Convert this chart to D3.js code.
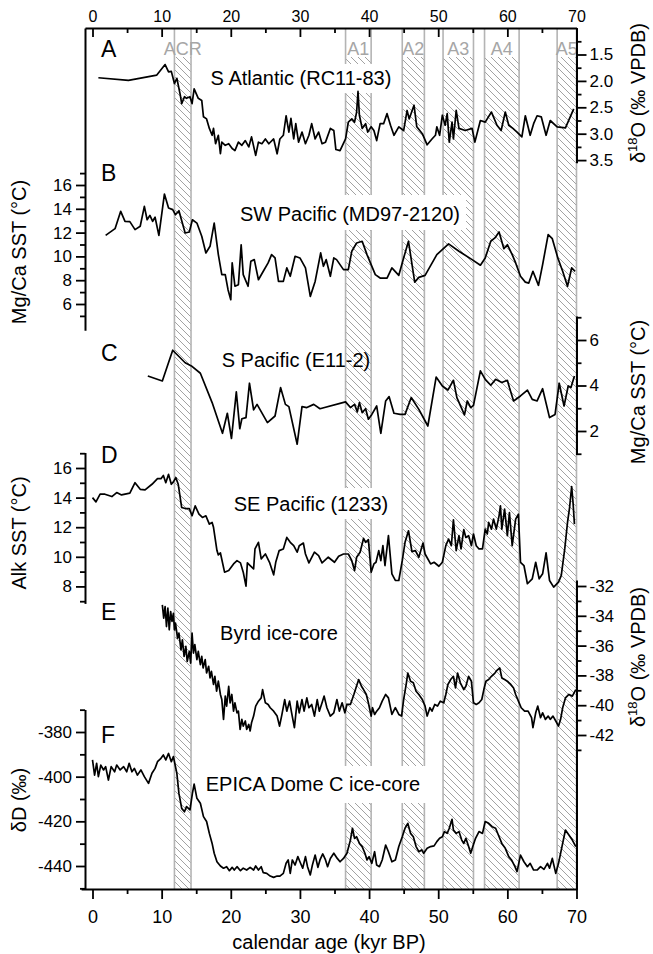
<!DOCTYPE html>
<html>
<head>
<meta charset="utf-8">
<script src="https://cdn.jsdelivr.net/npm/d3@7"></script>
<style>
body{margin:0;background:#fff;}
svg text{font-family:"Liberation Sans",Arial,Helvetica,sans-serif;}
</style>
</head>
<body>
<script>
//climate events (kyr BP), shaded bands
var bandNames = ["ACR","A1","A2","A3","A4","A5"];
var bandStart = [11.85, 36.6, 44.8, 50.7, 56.7, 67.2];
var bandEnd   = [14.25, 40.3, 48.0, 55.1, 61.7, 70.0];

//A: S Atlantic RC11-83, d18O (permil VPDB)  [age, value]
var seriesA = [[0.85,1.94],[5.2,1.99],[9.3,1.89],[10.5,1.69],[11.0,1.83],[11.4,1.82],[11.85,2.05],[12.2,1.95],[12.7,2.27],[12.9,2.43],[13.3,2.30],[13.6,2.33],[14.1,2.30],[14.4,2.43],[14.7,2.15],[15.3,2.33],[15.8,2.37],[16.05,2.68],[16.5,2.72],[16.9,2.90],[17.3,3.03],[17.5,2.90],[17.8,3.19],[18.2,3.03],[18.5,3.38],[18.7,3.16],[19.2,3.22],[19.7,3.19],[20.2,3.28],[20.6,3.32],[21.1,3.16],[21.6,3.22],[22.1,3.13],[22.6,3.25],[23.0,3.06],[23.6,3.41],[24.0,3.16],[24.5,3.19],[25.0,3.10],[25.5,3.19],[26.2,3.10],[26.7,3.38],[27.1,3.10],[27.6,3.03],[28.0,2.66],[28.4,2.97],[28.7,2.71],[29.1,3.10],[29.4,2.81],[29.8,3.16],[30.3,2.97],[30.8,3.19],[31.3,3.03],[31.7,2.81],[32.2,3.10],[32.7,2.97],[33.2,3.19],[33.7,3.16],[34.4,2.90],[34.9,2.94],[35.2,3.30],[35.8,3.32],[36.6,3.10],[37.0,2.78],[37.5,2.72],[37.9,2.78],[38.2,2.59],[38.4,2.20],[38.6,2.65],[39.0,2.90],[39.5,2.81],[39.8,2.97],[40.3,2.87],[40.7,2.94],[41.1,3.13],[41.6,2.81],[42.1,2.81],[42.6,2.62],[43.1,2.84],[43.6,3.03],[44.3,2.87],[45.0,2.94],[45.5,2.56],[45.8,2.72],[46.5,2.46],[46.9,2.87],[47.7,3.00],[48.4,3.21],[49.1,3.10],[49.6,3.03],[49.8,2.87],[50.2,3.03],[50.6,2.65],[51.0,2.84],[51.3,2.62],[51.6,3.16],[52.0,2.78],[52.2,3.10],[52.6,2.56],[53.0,2.90],[53.9,2.94],[54.9,2.90],[55.3,3.16],[56.1,2.75],[56.8,2.78],[57.7,2.59],[58.5,2.84],[59.1,2.94],[59.7,2.59],[60.2,2.84],[60.8,2.90],[61.4,2.97],[62.1,3.06],[62.6,2.66],[63.3,3.03],[63.8,2.81],[64.3,2.66],[64.9,2.68],[65.6,3.03],[66.2,2.75],[67.2,2.87],[68.4,2.89],[69.6,2.53]];

//B: SW Pacific MD97-2120, Mg/Ca SST (C)
var seriesB = [[1.9,11.77],[3.26,12.33],[4.08,13.79],[4.7,12.95],[5.4,12.92],[6.15,12.25],[6.9,12.53],[7.5,14.21],[7.9,13.08],[8.3,13.45],[8.7,12.95],[9.05,13.29],[9.6,11.77],[10.4,15.24],[11.0,14.07],[11.6,13.93],[12.0,13.5],[12.5,13.84],[13.4,11.97],[14.0,12.05],[14.45,13.08],[15.1,12.8],[15.8,11.69],[16.4,10.29],[17.0,10.85],[17.6,12.8],[18.2,10.15],[18.7,8.47],[19.2,8.47],[19.6,7.2],[20.0,6.36],[20.2,9.45],[20.6,7.49],[21.1,7.62],[21.5,10.98],[21.8,8.47],[22.5,7.49],[22.9,9.59],[23.4,9.73],[24.0,8.04],[24.7,8.75],[25.4,9.45],[25.9,10.15],[26.4,9.87],[26.9,7.9],[27.6,7.9],[28.1,9.03],[28.6,8.33],[29.3,10.01],[30.0,9.87],[30.8,9.03],[31.5,6.64],[32.2,7.9],[33.0,10.29],[33.4,9.17],[33.8,9.73],[34.4,8.33],[34.9,9.87],[35.3,9.73],[36.3,8.89],[37.0,8.89],[37.5,10.43],[38.2,11.13],[39.0,11.27],[39.7,10.15],[40.3,9.31],[40.9,8.47],[41.6,8.18],[42.6,8.18],[43.3,9.03],[44.3,8.41],[45.0,9.87],[45.7,11.27],[46.6,7.84],[47.2,8.24],[48.1,8.41],[49.8,10.15],[51.5,11.05],[53.0,10.43],[54.9,9.73],[56.1,9.26],[56.8,9.87],[57.6,11.27],[58.2,11.55],[58.8,12.05],[59.5,10.65],[60.0,10.98],[60.7,10.15],[61.2,9.45],[61.9,8.33],[62.6,7.84],[63.1,7.76],[63.7,8.75],[64.5,7.57],[65.1,9.31],[65.9,11.83],[66.5,11.49],[67.3,9.87],[68.0,8.75],[68.7,7.49],[69.3,9.03],[69.8,8.75]];

//C: S Pacific E11-2, Mg/Ca SST (C)
var seriesC = [[8.0,4.42],[10.1,4.2],[11.6,5.55],[13.4,5.0],[14.3,4.86],[15.6,4.54],[17.3,3.25],[18.8,1.9],[19.5,2.78],[20.1,1.67],[20.8,3.72],[21.3,2.1],[21.6,2.54],[22.2,2.59],[22.7,4.1],[23.3,2.93],[23.8,3.17],[25.3,2.37],[26.4,2.66],[27.2,3.91],[27.9,3.17],[28.4,3.07],[29.6,1.42],[30.3,3.07],[31.0,3.03],[32.0,3.17],[32.9,2.98],[36.6,3.28],[37.3,3.03],[37.9,3.17],[38.3,2.84],[38.6,3.25],[39.0,2.81],[39.5,2.98],[39.9,2.52],[40.4,2.73],[41.1,3.1],[41.7,1.9],[42.4,3.32],[42.9,3.51],[43.6,2.78],[44.5,2.73],[45.2,2.73],[46.1,3.47],[47.2,2.95],[48.5,2.22],[49.7,4.37],[50.6,3.98],[51.4,3.8],[52.2,4.23],[52.7,3.47],[53.8,2.71],[54.2,3.32],[54.7,3.03],[55.1,3.13],[56.1,4.64],[56.8,4.27],[57.6,4.01],[58.3,4.27],[59.2,4.13],[60.0,4.23],[60.3,3.91],[60.9,3.32],[61.9,3.54],[62.9,3.8],[63.6,3.39],[64.3,3.32],[65.1,3.86],[66.1,2.59],[66.9,2.73],[67.5,4.1],[68.2,3.1],[68.8,3.98],[69.2,3.91],[69.7,4.42]];

//D: SE Pacific ODP 1233, alkenone SST (C)
var seriesD = [[0,14.0],[0.5,13.71],[1.1,14.23],[1.8,14.23],[2.8,14.07],[3.5,14.34],[4.2,14.18],[5.4,14.3],[6.15,15.01],[6.9,14.56],[7.6,14.52],[8.6,14.9],[9.4,15.28],[9.9,15.28],[10.25,15.5],[10.6,15.01],[11.0,15.57],[11.4,14.9],[11.7,15.06],[12.05,15.35],[12.4,14.9],[12.9,13.33],[13.4,13.26],[14.0,13.26],[14.4,12.77],[14.85,13.44],[15.4,12.88],[15.9,12.66],[16.4,12.77],[16.9,12.21],[17.3,12.32],[17.5,11.99],[18.0,10.42],[18.2,10.13],[18.5,10.26],[19.1,8.96],[19.7,9.07],[20.4,9.52],[20.9,9.74],[21.4,9.59],[21.8,8.96],[22.2,8.02],[22.4,9.59],[22.8,9.41],[23.3,9.18],[23.5,10.53],[24.0,10.98],[24.4,9.86],[25.0,10.19],[25.6,9.63],[26.2,8.78],[26.5,9.63],[27.0,10.42],[27.6,10.53],[28.1,11.31],[28.6,10.98],[29.1,10.75],[29.6,10.31],[29.9,10.75],[30.5,10.93],[30.8,10.19],[31.3,9.59],[32.1,10.31],[32.7,10.08],[33.2,9.59],[34.1,9.97],[35.0,9.63],[35.6,10.04],[36.3,10.19],[37.0,10.19],[37.5,9.74],[37.9,9.07],[38.2,9.97],[38.7,10.31],[39.2,11.24],[39.5,10.98],[39.9,11.16],[40.3,8.96],[40.7,9.52],[41.0,9.63],[41.4,10.42],[41.7,9.74],[42.0,10.75],[42.3,9.41],[42.8,11.43],[43.3,8.85],[43.8,8.4],[44.3,8.4],[44.8,9.74],[45.2,10.98],[45.7,11.76],[46.2,10.35],[46.7,10.42],[47.2,9.97],[47.8,10.93],[48.1,10.19],[48.9,9.52],[49.4,9.63],[50.1,9.36],[50.6,9.63],[51.1,10.75],[51.5,11.2],[51.9,10.75],[52.2,12.5],[52.6,10.42],[53.0,11.43],[53.3,10.53],[53.7,11.83],[54.0,11.31],[54.4,11.43],[54.8,10.75],[55.1,11.54],[55.5,10.75],[55.9,10.53],[56.4,10.53],[56.8,11.87],[57.1,11.54],[57.3,12.32],[57.7,11.87],[58.0,12.55],[58.4,11.87],[58.8,12.77],[59.0,13.44],[59.2,11.87],[59.6,13.22],[60.0,11.43],[60.3,12.99],[60.7,10.75],[61.2,12.55],[61.6,12.88],[61.9,9.63],[62.4,9.41],[62.9,8.18],[63.6,8.51],[64.1,9.63],[64.6,8.51],[65.1,8.85],[65.6,10.26],[66.1,8.4],[66.7,7.95],[67.4,8.29],[67.8,8.74],[68.3,10.53],[68.7,12.32],[69.0,13.33],[69.3,14.75],[69.5,13.67],[69.7,12.21]];

//E: Byrd ice-core, d18O (permil VPDB)
var seriesE = [[10.1,-33.27],[10.3,-34.16],[10.5,-33.38],[10.7,-34.72],[10.9,-33.49],[11.1,-34.94],[11.3,-33.71],[11.5,-34.38],[11.7,-33.83],[11.85,-34.94],[12.0,-34.49],[12.3,-35.5],[12.5,-35.16],[12.8,-36.28],[13.0,-35.61],[13.25,-36.72],[13.5,-36.05],[13.7,-37.06],[14.0,-36.39],[14.2,-37.17],[14.4,-35.16],[14.6,-36.5],[14.8,-35.94],[15.1,-36.94],[15.3,-36.39],[15.6,-37.28],[15.8,-36.72],[16.0,-37.5],[16.3,-36.94],[16.5,-37.84],[16.8,-37.39],[17.0,-38.17],[17.2,-37.73],[17.5,-38.61],[17.7,-38.06],[17.95,-39.06],[18.2,-38.39],[18.5,-39.28],[18.7,-39.62],[18.95,-40.95],[19.2,-39.39],[19.4,-40.06],[19.7,-38.73],[19.9,-39.84],[20.15,-39.28],[20.4,-40.4],[20.6,-39.84],[20.9,-40.51],[21.1,-40.4],[21.35,-41.62],[21.6,-40.95],[21.8,-41.4],[22.1,-41.06],[22.3,-41.62],[22.6,-41.29],[22.8,-41.73],[23.0,-41.18],[23.3,-40.73],[23.6,-40.06],[24.0,-39.73],[24.4,-39.51],[24.6,-38.95],[25.0,-39.84],[25.4,-39.95],[25.7,-40.17],[26.2,-40.4],[26.7,-40.73],[27.05,-41.4],[27.4,-40.62],[27.8,-39.62],[28.1,-40.4],[28.5,-39.73],[28.8,-40.51],[29.2,-41.51],[29.6,-39.73],[29.9,-40.51],[30.3,-39.62],[30.6,-40.4],[31.0,-39.51],[31.3,-40.17],[31.7,-39.95],[32.1,-40.73],[32.5,-39.62],[32.8,-40.4],[33.2,-39.84],[33.5,-39.39],[33.9,-40.17],[34.4,-40.73],[34.9,-40.51],[35.35,-39.62],[35.7,-40.4],[36.1,-39.84],[36.5,-40.51],[36.8,-39.95],[37.3,-39.95],[37.8,-39.28],[38.1,-38.84],[38.5,-38.28],[38.9,-38.73],[39.2,-38.95],[39.6,-39.28],[39.9,-39.84],[40.3,-40.73],[40.5,-40.17],[40.8,-40.62],[41.1,-40.4],[41.5,-40.17],[41.9,-39.73],[42.4,-39.28],[42.8,-39.51],[43.3,-40.62],[43.8,-40.17],[44.3,-40.62],[44.7,-40.73],[45.0,-39.62],[45.4,-38.5],[45.6,-37.84],[46.0,-38.39],[46.4,-38.5],[46.8,-39.06],[47.2,-39.28],[47.7,-39.62],[48.1,-40.06],[48.4,-40.73],[48.8,-40.17],[49.1,-40.4],[49.5,-39.95],[49.9,-40.06],[50.3,-39.73],[50.8,-39.84],[51.1,-39.28],[51.4,-38.61],[51.8,-38.28],[52.2,-38.06],[52.5,-38.84],[52.8,-37.84],[53.2,-38.5],[53.7,-38.95],[54.0,-38.73],[54.4,-38.06],[54.8,-38.39],[55.1,-39.84],[55.5,-39.95],[55.9,-39.84],[56.3,-39.62],[56.6,-38.95],[56.9,-38.39],[57.3,-38.28],[57.7,-38.06],[58.2,-37.84],[58.5,-37.66],[58.9,-37.5],[59.2,-38.17],[59.6,-38.28],[60.0,-38.39],[60.5,-38.61],[60.9,-38.84],[61.2,-39.28],[61.6,-39.73],[62.0,-40.17],[62.5,-40.4],[63.0,-40.4],[63.5,-40.84],[63.7,-41.51],[64.1,-40.51],[64.4,-40.06],[64.8,-40.84],[65.1,-40.51],[65.5,-40.95],[65.9,-40.73],[66.2,-40.95],[66.6,-40.73],[67.0,-41.06],[67.4,-41.4],[67.7,-40.95],[68.0,-40.17],[68.4,-39.51],[68.9,-39.28],[69.4,-39.39],[69.9,-38.95]];

//F: EPICA Dome C ice-core, dD (permil)
var seriesF = [[0,-392.5],[0.3,-399.3],[0.6,-394],[0.85,-400],[1.2,-394.8],[1.6,-397],[1.9,-395.5],[2.3,-401.5],[2.7,-395.5],[3.2,-397.8],[3.5,-394.8],[4.0,-397],[4.5,-395.5],[4.95,-397.8],[5.3,-394],[5.7,-397.8],[6.05,-396.3],[6.5,-399.3],[7.0,-397],[7.5,-400],[8.1,-403],[8.6,-398.5],[9.05,-396.3],[9.4,-393.3],[9.9,-391.8],[10.25,-390.3],[10.6,-392.5],[11.0,-389.6],[11.4,-393.3],[11.7,-391],[12.2,-398.5],[12.5,-407.5],[12.9,-414.2],[13.3,-415.7],[13.6,-413.4],[14.1,-414.9],[14.45,-407.5],[14.7,-403.3],[15.1,-409.7],[15.6,-411.9],[16.05,-417.9],[16.5,-420.1],[16.9,-425.4],[17.3,-429.9],[17.6,-434.3],[18.0,-438.1],[18.5,-440],[18.95,-441],[19.4,-440.3],[19.8,-442.1],[20.2,-440.6],[20.5,-441.8],[20.9,-440.3],[21.4,-442.1],[21.8,-441],[22.3,-441.8],[22.8,-440.6],[23.3,-441.8],[23.6,-440],[24.0,-441.8],[24.4,-440.3],[24.7,-443],[25.2,-443.3],[25.7,-444.5],[26.2,-445.1],[26.7,-444.5],[27.1,-444.5],[27.6,-443.3],[28.0,-438.8],[28.3,-437.3],[28.6,-443.3],[28.9,-437.3],[29.3,-439.6],[29.7,-435.8],[30.0,-438.1],[30.4,-441],[30.8,-435.8],[31.1,-440.3],[31.5,-444],[31.8,-439.6],[32.2,-435.1],[32.6,-440.6],[32.9,-437.3],[33.3,-434.6],[33.7,-437.3],[34.0,-440.3],[34.4,-436.6],[34.9,-434.3],[35.4,-436.6],[35.8,-438.1],[36.3,-436.6],[36.8,-434.3],[37.3,-428.4],[37.6,-423.1],[37.9,-427.6],[38.2,-426.9],[38.6,-429.9],[39.0,-431.3],[39.4,-434.3],[39.7,-437.3],[40.0,-435.8],[40.4,-438.8],[40.8,-433.6],[41.1,-439.6],[41.5,-440.3],[41.9,-437.3],[42.4,-430.6],[42.8,-433.6],[43.3,-438.1],[43.8,-437.3],[44.3,-431.3],[44.8,-426.9],[45.2,-423.1],[45.6,-420.9],[46.0,-425.4],[46.4,-426.9],[46.8,-431.3],[47.2,-433.6],[47.6,-432.8],[47.9,-434.3],[48.4,-432.1],[48.9,-431.3],[49.4,-431],[49.8,-429.1],[50.2,-427.6],[50.6,-426.9],[50.9,-424.6],[51.3,-425.4],[51.6,-423.1],[52.0,-419.1],[52.2,-423.9],[52.6,-425.4],[53.0,-424.6],[53.4,-428.4],[53.7,-429.9],[54.0,-427.6],[54.4,-431.3],[54.7,-434.3],[55.0,-431.3],[55.4,-427.6],[55.9,-424.6],[56.4,-425.4],[56.8,-420.1],[57.3,-420.9],[57.8,-422.4],[58.3,-423.1],[58.7,-426.1],[59.2,-429.9],[59.7,-432.1],[60.2,-435.8],[60.6,-437.3],[61.1,-440.3],[61.4,-442.5],[61.9,-435.1],[62.4,-438.1],[62.9,-440.3],[63.3,-438.8],[63.8,-441.8],[64.3,-441.8],[64.8,-440.3],[65.3,-441.5],[65.8,-438.8],[66.1,-441],[66.5,-436.6],[67.0,-443.3],[67.4,-438.8],[67.9,-431.3],[68.4,-423.9],[68.9,-426.1],[69.4,-428.4],[69.9,-431.3]];

//tick values
var ageMajor = [0,10,20,30,40,50,60,70];
var ageMinor = [5,15,25,35,45,55,65];
var ticksA = [1.5,2.0,2.5,3.0,3.5];
var ticksAminor = [1.25,1.75,2.25,2.75,3.25];
var ticksB = [6,8,10,12,14,16];
var ticksBminor = [5,7,9,11,13,15,17];
var ticksC = [2,4,6];
var ticksCminor = [1,3,5,7];
var ticksD = [8,10,12,14,16];
var ticksDminor = [7,9,11,13,15,17];
var ticksE = [-32,-34,-36,-38,-40,-42];
var ticksEminor = [-33,-35,-37,-39,-41,-43];
var ticksF = [-380,-400,-420,-440];
var ticksFminor = [-370,-390,-410,-430,-450];

//panel titles
var letters = ["A","B","C","D","E","F"];
var titles = ["S Atlantic (RC11-83)","SW Pacific (MD97-2120)","S Pacific (E11-2)","SE Pacific (1233)","Byrd ice-core","EPICA Dome C ice-core"];

var width = 653, height = 954;
var top0 = 28, bottom0 = 889, left0 = 85, right0 = 576.5;

var svg = d3.select("body").append("svg")
    .attr("width", width)
    .attr("height", height);

//linear scale through two reference points, spanning the given domain
function lin(v0, p0, v1, p1, dom){
    var k = (p1 - p0) / (v1 - v0);
    return d3.scaleLinear().domain(dom).range(dom.map(function(v){ return p0 + (v - v0) * k; }));
}

var x = lin(0, 92.5, 70, 576.5, [-1.09, 70]);
var xb = lin(0, 92.5, 70, 576.5, [-1.65, 70]);

var yA = lin(1.5, 54.5, 3.5, 160.1, [1.0, 3.55]);
var yB = lin(16, 185, 6, 304, [29.2, 3.8]);
var yC = lin(6, 340, 2, 431, [7.05, 0.97]);
var yD = lin(16, 468, 8, 586.4, [17.05, 6.85]);
var yE = lin(-32, 586, -42, 735, [-31.6, -52.35]);
var yF = lin(-380, 732, -440, 866, [-369.9, -450.3]);

//hatch pattern for the bands
var defs = svg.append("defs");
defs.append("pattern")
    .attr("id", "hatch")
    .attr("patternUnits", "userSpaceOnUse")
    .attr("width", 7)
    .attr("height", 7)
    .append("path")
    .attr("d", "M-1,-1L8,8M-1,6L1,8M6,-1L8,1")
    .attr("stroke", "#8a8a8a")
    .attr("stroke-width", 0.8);

var idx = d3.range(bandNames.length);

svg.selectAll(".band")
    .data(idx)
    .enter()
    .append("rect")
    .attr("class", "band")
    .attr("x", function(i){ return x(bandStart[i]); })
    .attr("y", 57)
    .attr("width", function(i){ return x(bandEnd[i]) - x(bandStart[i]); })
    .attr("height", bottom0 - 57)
    .attr("fill", "url(#hatch)");

[bandStart, bandEnd].forEach(function(arr){
    svg.selectAll(null)
        .data(idx)
        .enter()
        .append("line")
        .attr("x1", function(i){ return x(arr[i]); })
        .attr("x2", function(i){ return x(arr[i]); })
        .attr("y1", top0)
        .attr("y2", bottom0)
        .attr("stroke", "#b4b4b4")
        .attr("stroke-width", 1.6);
});

//band names at the top
svg.selectAll(".bandlabel")
    .data(idx)
    .enter()
    .append("text")
    .attr("x", function(i){ return (x(bandStart[i]) + x(bandEnd[i])) / 2; })
    .attr("y", 55)
    .attr("text-anchor", "middle")
    .attr("font-size", 18)
    .attr("fill", "#a6a6a6")
    .text(function(i){ return bandNames[i]; });

//white boxes behind some panel titles
var boxes = [[205, 64, 192, 29], [235, 195, 231, 35], [228, 488, 166, 31], [200, 766, 226, 37]];
svg.selectAll(".box")
    .data(boxes)
    .enter()
    .append("rect")
    .attr("x", function(d){ return d[0]; })
    .attr("y", function(d){ return d[1]; })
    .attr("width", function(d){ return d[2]; })
    .attr("height", function(d){ return d[3]; })
    .attr("fill", "#fff");

//records
var records = [[seriesA, yA], [seriesB, yB], [seriesC, yC], [seriesD, yD], [seriesE, yE], [seriesF, yF]];
records.forEach(function(r){
    var line = d3.line()
        .x(function(d){ return x(d[0]); })
        .y(function(d){ return r[1](d[1]); });
    svg.append("path")
        .datum(r[0])
        .attr("d", line)
        .attr("fill", "none")
        .attr("stroke", "#000")
        .attr("stroke-width", 1.7)
        .attr("stroke-linejoin", "round");
});

//axis with minor and major ticks
function drawAxis(axisFn, scale, major, minor, fmt, pos, fs, inner, minorSize, pad){
    var g = svg.append("g").attr("transform", pos);
    g.append("g")
        .call(axisFn(scale).tickValues(minor).tickSizeInner(minorSize).tickSizeOuter(0).tickFormat(""))
        .call(function(s){ s.select(".domain").remove(); });
    g.append("g")
        .call(axisFn(scale).tickValues(major).tickSizeInner(inner).tickSizeOuter(0).tickPadding(pad).tickFormat(fmt));
    g.selectAll(".domain").attr("stroke-width", 2);
    g.selectAll(".tick line").attr("stroke-width", 1.8);
    g.selectAll("text")
        .attr("font-size", fs)
        .attr("font-family", "Liberation Sans, Arial, sans-serif")
        .attr("fill", "#000");
}

var num = function(d){ return String(d); };

drawAxis(d3.axisTop, x, ageMajor, ageMinor, num, "translate(0," + top0 + ")", 16, -9, -5, 6);
drawAxis(d3.axisBottom, xb, ageMajor, ageMinor, num, "translate(0," + bottom0 + ")", 18, 10, 5, 11);
drawAxis(d3.axisRight, yA, ticksA, ticksAminor, d3.format(".1f"), "translate(" + right0 + ",0)", 17, 10, 5, 3);
drawAxis(d3.axisLeft, yB, ticksB, ticksBminor, num, "translate(" + left0 + ",0)", 17, 9, 5, 4);
drawAxis(d3.axisRight, yC, ticksC, ticksCminor, num, "translate(" + right0 + ",0)", 17, 10, 5, 3);
drawAxis(d3.axisLeft, yD, ticksD, ticksDminor, num, "translate(" + left0 + ",0)", 17, 9, 5, 4);
drawAxis(d3.axisRight, yE, ticksE, ticksEminor, num, "translate(" + right0 + ",0)", 17, 10, 5, 3);
drawAxis(d3.axisLeft, yF, ticksF, ticksFminor, num, "translate(" + left0 + ",0)", 17, 9, 5, 4);

//panel letters and titles
var letterY = [57, 181, 361, 463, 620, 743];
var titleX = [301, 350, 296, 311, 279, 313];
var titleY = [85, 221, 367, 511, 640, 791];

svg.selectAll(".letter")
    .data(letters)
    .enter()
    .append("text")
    .attr("x", 101)
    .attr("y", function(d, i){ return letterY[i]; })
    .attr("font-size", 23)
    .text(function(d){ return d; });

svg.selectAll(".title")
    .data(titles)
    .enter()
    .append("text")
    .attr("x", function(d, i){ return titleX[i]; })
    .attr("y", function(d, i){ return titleY[i]; })
    .attr("text-anchor", "middle")
    .attr("font-size", 20)
    .text(function(d){ return d; });

//axis titles (rotated)
function sideTitle(cx, cy, parts){
    var t = svg.append("text")
        .attr("transform", "translate(" + cx + "," + cy + ") rotate(-90)")
        .attr("text-anchor", "middle")
        .attr("dy", "0.35em")
        .attr("font-size", 20);
    parts.forEach(function(p){
        var s = t.append("tspan").text(p[0]);
        if (p[1] == "sup") s.attr("font-size", 13).attr("dy", "-0.6em");
        if (p[1] == "back") s.attr("dy", "0.39em");
    });
}

sideTitle(638, 93, [["\u03b4"], ["18", "sup"], ["O (\u2030 VPDB)", "back"]]);
sideTitle(19, 252, [["Mg/Ca SST (\u00b0C)"]]);
sideTitle(638, 392, [["Mg/Ca SST (\u00b0C)"]]);
sideTitle(19, 533, [["Alk SST (\u00b0C)"]]);
sideTitle(638, 657, [["\u03b4"], ["18", "sup"], ["O (\u2030 VPDB)", "back"]]);
sideTitle(19, 800, [["\u03b4D (\u2030)"]]);

svg.append("text")
    .attr("x", 329)
    .attr("y", 949)
    .attr("text-anchor", "middle")
    .attr("font-size", 20)
    .text("calendar age (kyr BP)");
</script>
</body>
</html>
